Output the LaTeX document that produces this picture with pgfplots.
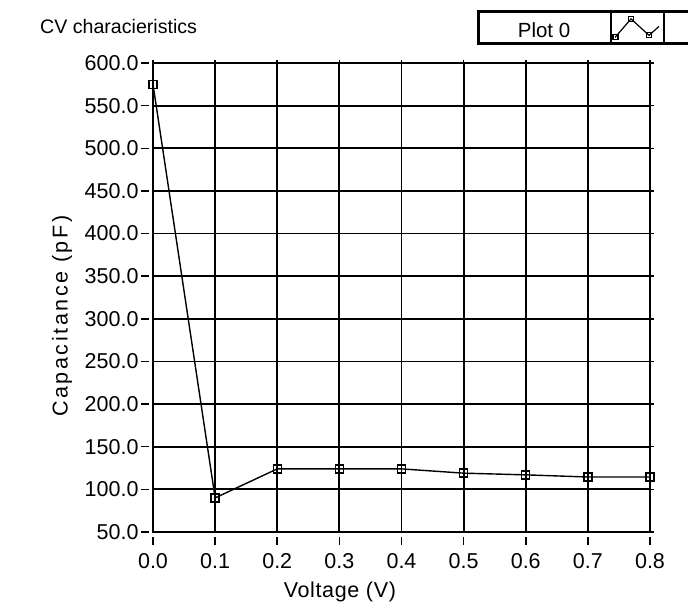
\documentclass[border=0pt]{standalone}
\usepackage{pgfplots}
\pgfplotsset{compat=1.18}
\usepackage{fontspec}
\setmainfont{Liberation Sans}
\begin{document}
\begin{tikzpicture}[x=1pt,y=1pt]
\begin{axis}[
  name=main,
  at={(0,0)}, anchor=south west,
  scale only axis, width=497pt, height=469pt,
  xmin=0, xmax=0.8, ymin=50, ymax=600,
  xtick={0,0.1,0.2,0.3,0.4,0.5,0.6,0.7,0.8},
  ytick={50,100,150,200,250,300,350,400,450,500,550,600},
  grid=major, grid style={black, line width=1.8pt},
  axis line style={black, line width=2pt},
  tick align=outside,
  xtick style={black, line width=1.5pt, yshift=-5pt},
  ytick style={black, line width=1.5pt, xshift=-4pt},
  major tick length=8pt,
  /pgf/number format/assume math mode=true,
  /pgf/number format/fixed, /pgf/number format/fixed zerofill, /pgf/number format/precision=1,
  ticklabel style={font=\fontsize{21.5}{24}\selectfont},
  xticklabel style={yshift=-10pt},
  yticklabel style={xshift=-3pt},
  xlabel={Voltage (V)}, ylabel={Capacitance (pF)},
  xlabel style={at={(axis description cs:0.376,-0.128)}, anchor=center,
    font=\fontsize{21.5}{24}\selectfont\addfontfeature{LetterSpace=3}},
  ylabel style={at={(axis description cs:-0.183,0.46)}, anchor=center,
    font=\fontsize{21.5}{24}\selectfont\addfontfeature{LetterSpace=12}},
  scaled x ticks=false, scaled y ticks=false,
  legend style={at={(0.654,1.109)}, anchor=north west, draw=black, line width=3pt,
    inner sep=0pt, outer sep=0pt, font=\fontsize{20.5}{23}\selectfont,
    /tikz/every even column/.style={column sep=0pt}},
  legend plot pos=right,
  legend image code/.code={
    \draw[line width=2pt] (0pt,-15pt) -- (0pt,15pt);
    \draw[line width=1.5pt] (53pt,-15pt) -- (53pt,15pt);
    \draw[line width=1.2pt] (4pt,-9.5pt) -- (20pt,9pt) -- (38pt,-7.5pt) -- (48pt,1.5pt);
    \draw[line width=1.2pt] (2pt,-12pt) rectangle (7pt,-7pt);
    \draw[line width=1.2pt] (17.5pt,6.5pt) rectangle (22.5pt,11.5pt);
    \draw[line width=1.2pt] (35.5pt,-10pt) rectangle (40.5pt,-5pt);
    \draw[line width=1pt] (80pt,-15pt) -- (80pt,15pt);
  },
]
\addplot[black, line width=1.4pt, mark=square, mark size=4pt, mark options={line width=1.4pt}]
  coordinates {(0.0,575) (0.1,90) (0.2,124) (0.3,124) (0.4,124) (0.5,119) (0.6,117) (0.7,114.5) (0.8,114.5)};
\addlegendentry{\makebox[128pt][c]{\rule[-9.5pt]{0pt}{30pt}Plot 0}}
\end{axis}
\node[anchor=base west,font=\fontsize{19.6}{23}\selectfont,inner sep=0pt] at ([shift={(-113pt,498pt)}]main.south west) {CV characieristics};
\pgfresetboundingbox
\path[use as bounding box] ([shift={(-153pt,-77pt)}]main.south west) rectangle ([shift={(535pt,532pt)}]main.south west);
\end{tikzpicture}
\end{document}
